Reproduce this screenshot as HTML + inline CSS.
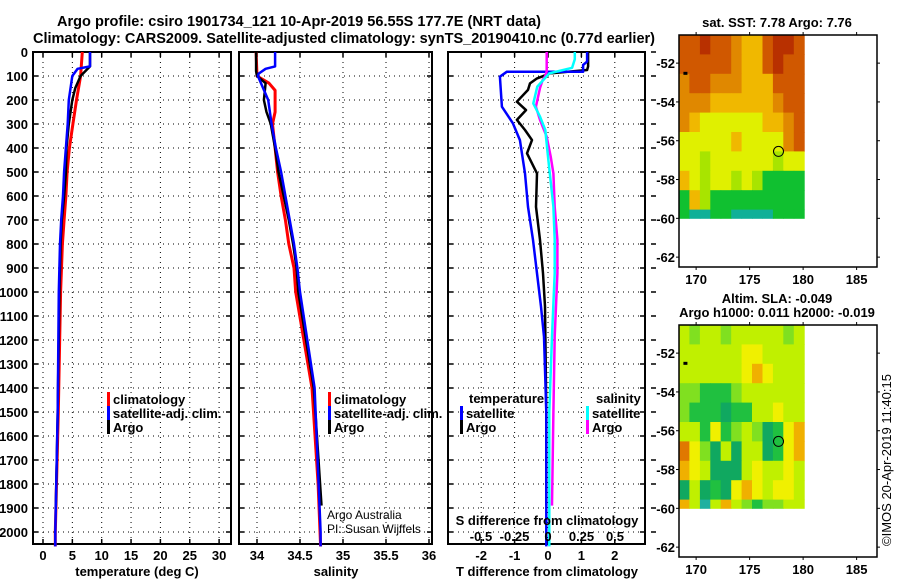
<!DOCTYPE html>
<html><head><meta charset="utf-8">
<style>
html,body{margin:0;padding:0;background:#fff;}
svg{display:block;font-family:"Liberation Sans",sans-serif;}
.b{font-weight:bold;font-size:13px;}
.t{font-weight:bold;font-size:14.5px;}
</style></head>
<body>
<svg id="c" width="900" height="580" viewBox="0 0 900 580">
<text class="t" x="57" y="26" textLength="484" lengthAdjust="spacingAndGlyphs">Argo profile: csiro 1901734_121 10-Apr-2019 56.55S 177.7E (NRT data)</text>
<text class="t" x="33" y="43" textLength="622" lengthAdjust="spacingAndGlyphs">Climatology: CARS2009. Satellite-adjusted climatology: synTS_20190410.nc (0.77d earlier)</text>
</svg>
<script>
// ---------- data ----------
const depthTicks=[0,100,200,300,400,500,600,700,800,900,1000,1100,1200,1300,1400,1500,1600,1700,1800,1900,2000];
const tempTicks=[0,5,10,15,20,25,30];
const salTicks=[34,34.5,35,35.5,36];
const salTickLabels=["34","34.5","35","35.5","36"];
const tdTicks=[-2,-1,0,1,2];
const sdTicks=[-0.5,-0.25,0,0.25,0.5];
const sdTickLabels=["-0.5","-0.25","0","0.25","0.5"];

const tClimDepth=[0,100,200,300,400,500,600,700,800,1000,1500,2000,2060];
const tClimVal=[6.7,6.4,5.7,5.1,4.5,4.1,3.9,3.6,3.3,3.0,2.6,2.1,2.1];
const tArgoDepth=[0,60,100,150,200,300,400,500,600,700,800,1000,1500,1890];
const tArgoVal=[8.0,8.0,6.4,5.5,5.0,4.4,4.0,3.9,3.6,3.2,3.0,2.8,2.5,2.2];
const tSatDepth=[0,60,70,100,200,300,400,500,600,700,800,1000,1500,2000,2060];
const tSatVal=[8.0,8.0,5.9,5.0,4.4,4.2,3.9,3.6,3.4,3.1,2.9,2.7,2.5,2.1,2.1];

const sClimDepth=[0,100,130,160,250,300,400,500,600,700,800,900,1000,1400,1800,2060];
const sClimVal=[33.99,34.0,34.14,34.21,34.21,34.18,34.21,34.24,34.28,34.33,34.37,34.43,34.45,34.64,34.71,34.74];
const sArgoDepth=[0,80,100,130,200,250,300,400,500,600,700,800,900,1000,1400,1890];
const sArgoVal=[33.99,33.99,34.0,34.10,34.08,34.11,34.16,34.21,34.25,34.31,34.37,34.42,34.46,34.48,34.66,34.75];
const sSatDepth=[0,60,70,90,100,200,300,400,500,600,700,800,900,1000,1400,2000,2060];
const sSatVal=[34.21,34.21,34.1,34.02,34.01,34.13,34.17,34.22,34.28,34.33,34.38,34.43,34.47,34.5,34.67,34.74,34.74];

const dtSatDepth=[0,40,54,82,82,103,228,297,367,506,645,783,922,1061,1186,1500,2060];
const dtSatVal=[1.17,1.17,1.05,1.05,-1.23,-1.44,-1.38,-1.05,-0.84,-0.69,-0.6,-0.45,-0.33,-0.21,-0.12,-0.05,-0.05];
const dtArgoDepth=[0,60,75,89,110,131,158,207,242,283,325,367,422,506,645,783,922,1061,1500,1890];
const dtArgoVal=[1.2,1.2,1.17,0.06,-0.33,-0.54,-0.6,-0.93,-0.66,-0.93,-0.69,-0.48,-0.63,-0.33,-0.36,-0.24,-0.15,-0.09,-0.05,-0.05];
const dsSatDepth=[0,30,66,89,144,214,269,325,436,645,783,922,1186,1500,2060];
const dsSatVal=[0.2,0.2,0.18,0.01,-0.08,-0.11,-0.06,-0.02,0,0.04,0.05,0.05,0.03,0.01,0.01];
const dsArgoDepth=[0,80,100,117,150,228,283,353,436,506,645,783,922,1186,1500,1890];
const dsArgoVal=[-0.01,-0.01,-0.02,-0.04,-0.06,-0.09,-0.06,-0.01,0.02,0.04,0.05,0.07,0.07,0.05,0.04,0.03];

const mapLatTicks=[-52,-54,-56,-58,-60,-62];
const mapLonTicks=[170,175,180,185];
const argoLon=177.7, argoLat=-56.55;
const sstPalette=["#b83000","#d05800","#e08800","#f0b800","#e0f000","#a8e400","#10c030","#10b098"];
const sstGrid=[
[1,1,0,1,1,2,3,3,1,0,0,1],
[1,1,1,1,1,2,3,3,1,0,1,1],
[2,1,1,2,2,2,3,3,3,1,1,1],
[2,2,2,3,3,3,3,3,3,2,1,1],
[2,3,4,4,4,4,4,4,3,3,2,1],
[4,4,4,4,4,3,4,4,4,4,2,1],
[4,4,5,4,4,4,4,4,4,5,4,4],
[3,4,5,4,4,5,4,5,6,6,6,6],
[6,3,5,6,6,6,6,6,6,6,6,6],
[6,7,7,6,6,7,7,7,7,6,6,6]];
const slaPalette=["#20b0a0","#10a860","#20c040","#80e020","#c0f000","#f0f000","#f0b000","#e07800"];
const slaGrid=[
[4,3,4,4,3,4,4,4,4,4,3,4],
[4,4,4,4,4,4,5,5,4,4,4,4],
[4,4,4,4,4,4,5,6,5,4,4,4],
[3,3,2,2,2,3,4,4,4,4,4,4],
[3,2,2,2,1,2,2,4,4,5,4,4],
[4,4,2,5,2,3,4,3,1,2,5,6],
[7,5,3,1,4,1,4,4,1,2,5,6],
[6,5,4,1,1,1,4,5,4,4,5,4],
[1,4,1,2,1,5,6,5,4,5,5,4],
[6,4,0,4,6,4,3,2,3,3,4,4]];

// ---------- drawing ----------
const svg=document.getElementById('c');
const NS='http://www.w3.org/2000/svg';
function mk(tag,attrs,parent){const e=document.createElementNS(NS,tag);for(const k in attrs)e.setAttribute(k,attrs[k]);(parent||svg).appendChild(e);return e;}
function txt(x,y,s,cls,anchor,parent){const e=mk('text',{x:x,y:y,'text-anchor':anchor||'start'},parent);if(cls)e.setAttribute('class',cls);e.textContent=s;return e;}
const plotTop=52,pxPerM=0.24,plotBottom=544;
const yD=d=>plotTop+d*pxPerM;

function panel(name){
  const g=mk('g',{});
  
  
  return g;
}
function frame(g,x0,x1,xs,fx,showY){
  depthTicks.forEach(d=>{
    const y=yD(d);
    mk('line',{x1:x0,x2:x1,y1:y,y2:y,stroke:'#000','stroke-width':1,'stroke-dasharray':'1,4'},g);
    mk('line',{x1:x0,x2:x0+5,y1:y,y2:y,stroke:'#000','stroke-width':1.5},g);
    mk('line',{x1:x1-5,x2:x1,y1:y,y2:y,stroke:'#000','stroke-width':1.5},g);
    if(showY){const t=txt(28,y+5,String(d),'b','end',g);}
  });
  xs.forEach(v=>{
    const x=fx(v);
    mk('line',{x1:x,x2:x,y1:plotTop,y2:plotBottom,stroke:'#000','stroke-width':1,'stroke-dasharray':'1,4'},g);
    mk('line',{x1:x,x2:x,y1:plotBottom-5,y2:plotBottom,stroke:'#000','stroke-width':1.5},g);
    mk('line',{x1:x,x2:x,y1:plotTop,y2:plotTop+5,stroke:'#000','stroke-width':1.5},g);
  });
  mk('rect',{x:x0,y:plotTop,width:x1-x0,height:plotBottom-plotTop,fill:'none',stroke:'#000','stroke-width':2},g);
}
function line(g,depths,vals,fx,color,w,name){
  let d='';
  for(let i=0;i<depths.length;i++){d+=(i?'L':'M')+fx(vals[i]).toFixed(1)+','+yD(depths[i]).toFixed(1);}
  const p=mk('path',{d:d,fill:'none',stroke:color,'stroke-width':w||2.5,'stroke-linejoin':'round'},g);
  
  
}
function legendEntry(g,x,y,color,label){
  const l=mk('g',{},g);
  
  
  mk('rect',{x:x,y:y-11,width:3,height:14,fill:color},l);
  txt(x+6,y+1,label,'b','start',l);
}

// Panel 1: temperature
const fxT=v=>43+5.87*v;
const p1=panel('temperature-panel');
frame(p1,33,231,tempTicks,fxT,true);
line(p1,tClimDepth,tClimVal,fxT,'#f00',3,'temperature-climatology-line');
line(p1,tArgoDepth,tArgoVal,fxT,'#000',2.5,'temperature-argo-line');
line(p1,tSatDepth,tSatVal,fxT,'#00f',2.5,'temperature-satellite-line');
tempTicks.forEach(v=>{const t=txt(fxT(v),560,String(v),'b','middle',p1);});
txt(137,576,'temperature (deg C)','b','middle',p1);
legendEntry(p1,107,403,'#f00','climatology');
legendEntry(p1,107,417,'#00f','satellite-adj. clim.');
legendEntry(p1,107,431,'#000','Argo');

// Panel 2: salinity
const fxS=v=>257+86*(v-34);
const p2=panel('salinity-panel');
frame(p2,239,432,salTicks,fxS,false);
line(p2,sClimDepth,sClimVal,fxS,'#f00',3,'salinity-climatology-line');
line(p2,sArgoDepth,sArgoVal,fxS,'#000',2.5,'salinity-argo-line');
line(p2,sSatDepth,sSatVal,fxS,'#00f',2.5,'salinity-satellite-line');
salTicks.forEach((v,i)=>{const t=txt(fxS(v),560,salTickLabels[i],'b','middle',p2);});
txt(336,576,'salinity','b','middle',p2);
legendEntry(p2,328,403,'#f00','climatology');
legendEntry(p2,328,417,'#00f','satellite-adj. clim.');
legendEntry(p2,328,431,'#000','Argo');
const cr=mk('g',{},p2);
const a1=txt(327,519,'Argo Australia','','start',cr);a1.setAttribute('font-size','12');
const a2=txt(327,533,'PI: Susan Wijffels','','start',cr);a2.setAttribute('font-size','12');

// Panel 3: differences
const fxDT=v=>548+33.4*v;
const fxDS=v=>548+134*v;
const p3=panel('difference-panel');
frame(p3,448,645,tdTicks,fxDT,false);
depthTicks.forEach(d=>mk('line',{x1:651,x2:656,y1:yD(d),y2:yD(d),stroke:'#000','stroke-width':1.5},p3));
line(p3,dtArgoDepth,dtArgoVal,fxDT,'#000',2.5,'temperature-diff-argo-line');
line(p3,dtSatDepth,dtSatVal,fxDT,'#00f',2.5,'temperature-diff-satellite-line');
line(p3,dsArgoDepth,dsArgoVal,fxDS,'#f0f',2.5,'salinity-diff-argo-line');
line(p3,dsSatDepth,dsSatVal,fxDS,'#0ff',2.5,'salinity-diff-satellite-line');
tdTicks.forEach(v=>{const t=txt(fxDT(v),560,String(v),'b','middle',p3);});
txt(547,576,'T difference from climatology','b','middle',p3);
txt(547,525,'S difference from climatology','b','middle',p3);
sdTicks.forEach((v,i)=>{const t=txt(fxDS(v),541,sdTickLabels[i],'b','middle',p3);});
txt(469,403,'temperature','b','start',p3);
txt(596,403,'salinity','b','start',p3);
legendEntry(p3,460,417,'#00f','satellite');
legendEntry(p3,460,431,'#000','Argo');
legendEntry(p3,586,417,'#0ff','satellite');
legendEntry(p3,586,431,'#f0f','Argo');

// Maps
function map(name,yTop,grid,pal){
  const g=mk('g',{});
  
  
  const lon0=168.4,lat0=-50.55,pxLon=10.7,pxLat=19.4,x0=679,x1=877,h=232;
  const fx=l=>x0+(l-lon0)*pxLon, fy=l=>yTop+(lat0-l)*pxLat;
  const dataBottom=fy(-60), dataRight=fx(180.1);
  grid.forEach((row,r)=>row.forEach((c,k)=>{
    const xa=x0+k*(dataRight-x0)/12, ya=yTop+r*pxLat;
    const hh=Math.min(pxLat,dataBottom-ya);
    mk('rect',{x:xa.toFixed(1),y:ya.toFixed(1),width:((dataRight-x0)/12+0.5).toFixed(1),height:(hh+0.5).toFixed(1),fill:pal[c]},g);
  }));
  mk('rect',{x:x0,y:yTop,width:x1-x0,height:h,fill:'none',stroke:'#000','stroke-width':1.5},g);
  mapLatTicks.forEach(l=>{const y=fy(l);mk('line',{x1:x0-3,x2:x0,y1:y,y2:y,stroke:'#000'},g);mk('line',{x1:x1,x2:x1+3,y1:y,y2:y,stroke:'#000'},g);const t=txt(x0-4,y+5,String(l),'b','end',g);});
  mapLonTicks.forEach(l=>{const x=fx(l);mk('line',{x1:x,x2:x,y1:yTop-3,y2:yTop,stroke:'#000'},g);mk('line',{x1:x,x2:x,y1:yTop+h,y2:yTop+h+3,stroke:'#000'},g);const t=txt(x,yTop+h+17,String(l),'b','middle',g);});
  mk('rect',{x:fx(169)-2,y:fy(-52.5)-1,width:4,height:3,fill:'#000'},g);
  const c=mk('circle',{cx:fx(argoLon),cy:fy(argoLat),r:5,fill:'none',stroke:'#000','stroke-width':1},g);
  
  
  return g;
}
map('sst-map',35,sstGrid,sstPalette);
txt(777,27,'sat. SST: 7.78 Argo: 7.76','b','middle');
map('sla-map',325,slaGrid,slaPalette);
txt(777,303,'Altim. SLA: -0.049','b','middle');
txt(777,317,'Argo h1000: 0.011 h2000: -0.019','b','middle');
const cp=txt(0,0,'©IMOS 20-Apr-2019 11:40:15','','middle');
cp.setAttribute('font-size','13');
cp.setAttribute('transform','translate(891,460) rotate(-90)');


</script>
</body></html>
